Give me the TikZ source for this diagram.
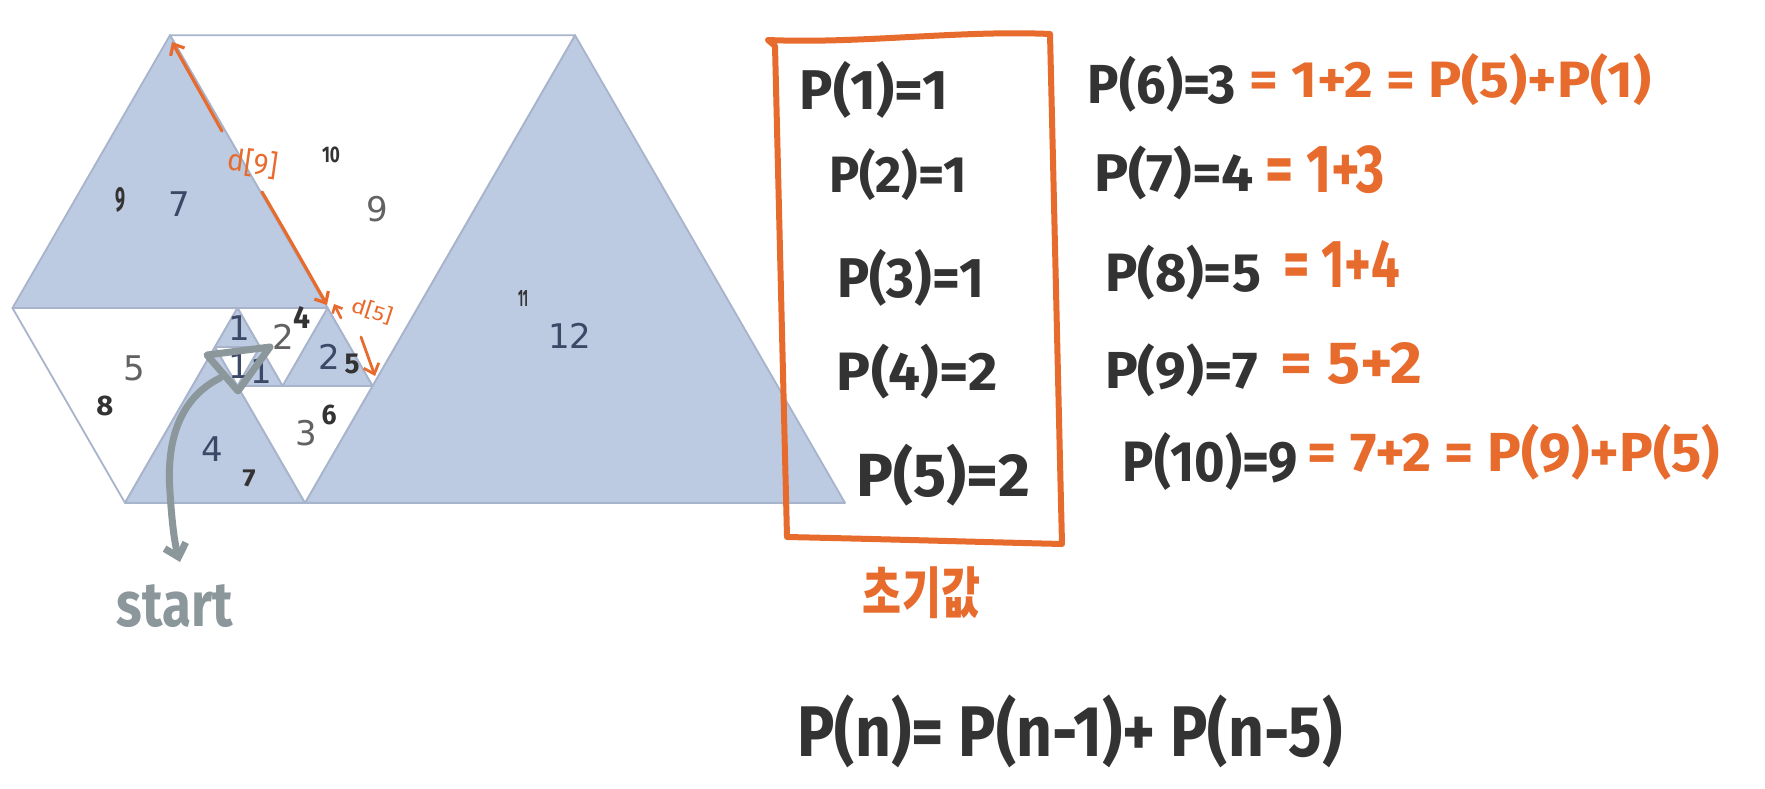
\documentclass[tikz,border=0pt]{standalone}
\usepackage{fontspec}
\setmainfont{DejaVu Sans}
\newfontfamily\hand{Fira Sans}
\newfontfamily\cjk{Noto Sans CJK KR}
\usetikzlibrary{arrows.meta}
\definecolor{triblue}{HTML}{BCCAE2}
\definecolor{triedge}{HTML}{A7B4CB}
\definecolor{lblblue}{HTML}{3C4866}
\definecolor{lblgray}{HTML}{626262}
\definecolor{ora}{HTML}{E86B2E}
\definecolor{ink}{HTML}{333333}
\definecolor{startgray}{HTML}{8B979B}
\newcommand\fitbox[3]{\resizebox*{#1pt}{#2pt}{#3}}
\begin{document}
\begin{tikzpicture}[x=1pt,y=-1pt,
  tri/.style={draw=triedge, line width=1.8pt, line join=round},
  bluetri/.style={tri, fill=triblue},
  whitetri/.style={tri, fill=white},
  lbl/.style={font=\fontsize{34}{34}\selectfont, inner sep=0pt},
  onblue/.style={lbl, text=lblblue},
  onwhite/.style={lbl, text=lblgray},
  hw/.style={inner sep=0pt, text=ink, font=\hand\bfseries},
  hwo/.style={hw, text=ora},
  hwthin/.style={inner sep=0pt, text=ora, font=\hand},
  annot/.style={draw=ora, line width=3.2pt, line cap=round, line join=round},
  orabox/.style={draw=ora, line width=6pt, line cap=round, line join=round},
  startline/.style={draw=startgray, line width=7pt, line cap=round, line join=round},
  barb/.style={-{Straight Barb[length=9pt,width=16pt]}},
  smallbarb/.style={-{Straight Barb[length=6pt,width=11pt]}}
]
\useasboundingbox (0,0) rectangle (1765,789);
\fill[white] (0,0) rectangle (1765,789);

% lattice points of the Padovan spiral (unit 45)
\coordinate (A) at (237.5,308);
\coordinate (B) at (215,346.97);
\coordinate (C) at (260,346.97);
\coordinate (D) at (237.5,385.94);
\coordinate (E) at (282.5,385.94);
\coordinate (F) at (327.5,308);
\coordinate (G) at (372.5,385.94);
\coordinate (H) at (305,502.86);
\coordinate (I) at (125,502.86);
\coordinate (J) at (12.5,308);
\coordinate (K) at (170,35.2);
\coordinate (L) at (575,35.2);
\coordinate (M) at (845,502.86);

% triangles
\path[bluetri]  (H) -- (M) -- (L) -- cycle;   % 12
\path[whitetri] (K) -- (L) -- (G) -- cycle;   % 9
\path[bluetri]  (J) -- (F) -- (K) -- cycle;   % 7
\path[whitetri] (J) -- (A) -- (I) -- cycle;   % 5
\path[bluetri]  (I) -- (H) -- (B) -- cycle;   % 4
\path[whitetri] (D) -- (G) -- (H) -- cycle;   % 3
\path[bluetri]  (E) -- (F) -- (G) -- cycle;   % 2
\path[whitetri] (A) -- (F) -- (E) -- cycle;   % 2
\path[bluetri]  (A) -- (B) -- (C) -- cycle;   % 1 top
\path[whitetri] (B) -- (C) -- (D) -- cycle;   % 1 mid
\path[bluetri]  (D) -- (C) -- (E) -- cycle;   % 1 right

% original labels
\node[onblue]  (l12) at (570,336) {12};
\node[onwhite] (l9)  at (377,209) {9};
\node[onblue]  (l7)  at (179,204) {7};
\node[onwhite] (l5)  at (134,368) {5};
\node[onblue]  (l4)  at (212,449) {4};
\node[onwhite] (l3)  at (306,433) {3};
\node[onwhite] (l2w) at (283,337) {2};
\node[onblue]  (l2b) at (329,357) {2};
\node[onblue]  (l1t) at (239,328) {1};
\node[onblue]  (l1m) at (239,366) {1};
\node[onblue]  (l1r) at (261.5,371) {1};

% handwritten indices
\node[hw] (n4)  at (302,317) {\fitbox{17}{22}{4}};
\node[hw] (n5)  at (352,364) {\fitbox{15}{20}{5}};
\node[hw] (n6)  at (329,415) {\fitbox{15}{20}{6}};
\node[hw] (n7)  at (249,478) {\fitbox{13}{17}{7}};
\node[hw] (n8)  at (105,406) {\fitbox{17}{20}{8}};
\node[hw] (n9)  at (120,200) {\fitbox{10}{25}{9}};
\node[hw] (n10) at (331,155) {\fitbox{18}{16}{10}};
\node[hw] (n11) at (523,298) {\fitbox{10}{16}{11}};

% d[9] and d[5]
\coordinate (d9a) at (222,131);
\coordinate (d9b) at (172,42);
\coordinate (d9c) at (262,192);
\coordinate (d9d) at (327,305);
\draw[annot,barb] (d9a) -- (d9b);
\draw[annot,barb] (d9c) .. controls (290,240) .. (d9d);
\node[hwthin, rotate=-8] (d9) at (253,163) {\fitbox{50}{28}{d[9]}};

\coordinate (d5a) at (341,318);
\coordinate (d5b) at (334,304);
\coordinate (d5c) at (361,337);
\coordinate (d5d) at (375,376);
\draw[annot,smallbarb,line width=2.6pt] (d5a) -- (d5b);
\draw[annot,barb,line width=2.8pt] (d5c) -- (d5d);
\node[hwthin, rotate=-18] (d5) at (372,311) {\fitbox{42}{19}{d[5]}};

% start marker
\coordinate (s1) at (207,355);
\coordinate (s2) at (270,347);
\coordinate (s3) at (238,391);
\draw[startline] (s1) -- (s2) -- (s3) -- cycle;
\coordinate (c0) at (220,378);
\coordinate (c1) at (180,562);
\draw[startline,-{Straight Barb[length=12pt,width=22pt]}] (c0) .. controls (180,398) and (166,440) .. (170,492) .. controls (172,525) and (175,545) .. (c1);
\node[inner sep=0pt, text=startgray, font=\hand\bfseries] (start) at (175,606) {\fitbox{116}{43}{start}};

% orange box
\coordinate (b0) at (768,40);
\coordinate (b1) at (775,46);
\coordinate (b2) at (787,537);
\coordinate (b3) at (1062,544);
\coordinate (b4) at (1050,34);
\draw[orabox] (b0) -- (b1) -- (b2) .. controls (880,539) and (980,542) .. (b3) .. controls (1058,380) and (1054,200) .. (b4) .. controls (960,30) and (860,44) .. (b0);

% initial values
\node[hw] (p1) at (874,89.5) {\fitbox{148}{57}{P(1)=1}};
\node[hw] (p2) at (898,175)  {\fitbox{138}{52}{P(2)=1}};
\node[hw] (p3) at (910.5,277.5) {\fitbox{147}{57}{P(3)=1}};
\node[hw] (p4) at (917.5,371.5) {\fitbox{161}{55}{P(4)=2}};
\node[hw] (p5) at (943,475)  {\fitbox{174}{62}{P(5)=2}};
\node[hwo] (init) at (921.5,592.5) {\fitbox{117}{52}{\cjk\bfseries 초기값}};

% right column
\node[hw]  (p6)  at (1162,84)  {\fitbox{148}{56}{P(6)=3}};
\node[hwo] (p6e) at (1450.5,80) {\fitbox{401}{52}{= 1+2 = P(5)+P(1)}};
\node[hw]  (p7)  at (1174,173) {\fitbox{160}{54}{P(7)=4}};
\node[hwo] (p7e) at (1325,170) {\fitbox{120}{48}{= 1+3}};
\node[hw]  (p8)  at (1183,273) {\fitbox{156}{55}{P(8)=5}};
\node[hwo] (p8e) at (1341.5,264) {\fitbox{117}{47}{= 1+4}};
\node[hw]  (p9)  at (1181.5,370) {\fitbox{153}{53}{P(9)=7}};
\node[hwo] (p9e) at (1351.5,363) {\fitbox{141}{42}{= 5+2}};
\node[hw]  (p10) at (1210.5,462) {\fitbox{175}{58}{P(10)=9}};
\node[hwo] (p10e) at (1514,452) {\fitbox{412}{56}{= 7+2 = P(9)+P(5)}};

% recurrence
\node[hw] (rec) at (1070,731) {\fitbox{545}{73}{P(n)= P(n-1)+ P(n-5)}};
\end{tikzpicture}
\end{document}
